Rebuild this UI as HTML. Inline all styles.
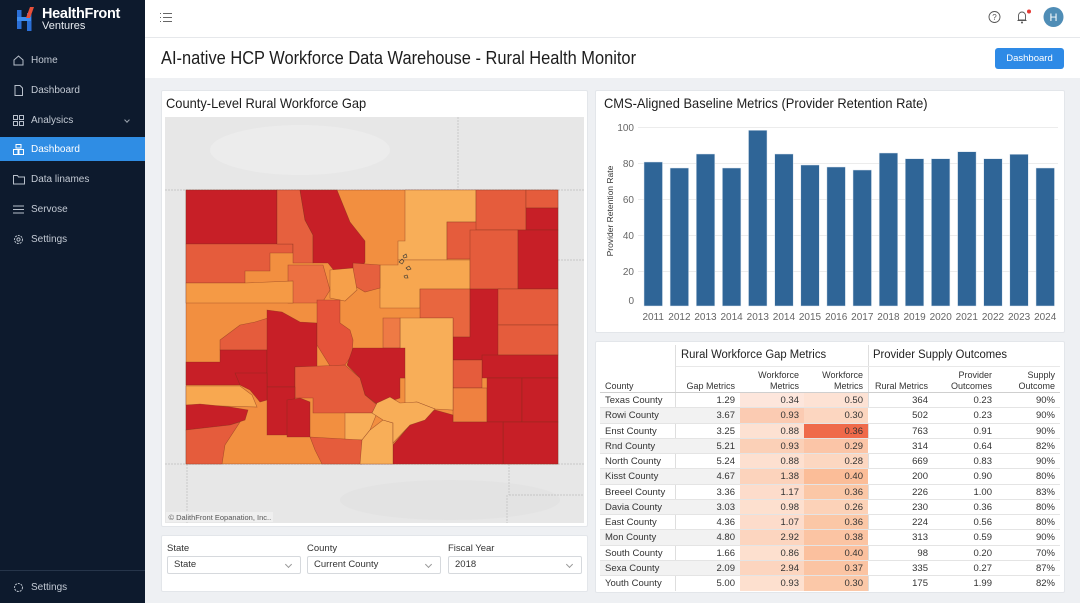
<!DOCTYPE html>
<html><head><meta charset="utf-8"><style>
*{margin:0;padding:0;box-sizing:border-box}
body{width:1080px;height:603px;overflow:hidden;background:#eef0f3;font-family:"Liberation Sans",Arial,sans-serif;position:relative;color:#222}
.abs{position:absolute}
#side{left:0;top:0;width:145px;height:603px;background:#0d1a2d}
.nav{position:absolute;left:0;width:145px;height:24px;line-height:24px;font-size:10px;color:#c3cad4;padding-left:31px}
.nav svg{position:absolute;left:13px;top:6px}
.card{position:absolute;background:#fff;border:1px solid #e3e6ea;border-radius:2px}
.t{position:absolute;white-space:nowrap}
.row{position:absolute;left:600px;width:460px;height:15.25px;display:flex;font-size:9.5px;line-height:15px;color:#333;border-bottom:1px solid #e4e4e4}
.row div{padding-right:5px;text-align:right}
.c0{width:75px;text-align:left!important;padding-left:5px}
.c1{width:65px}.c2{width:64px}.c3{width:64px}.c4{width:65px}.c5{width:64px}.c6{width:63px}
.g{background:#f2f2f2}
.sel{position:absolute;top:556px;height:18px;border:1px solid #d6d9dd;border-radius:2px;font-size:9.5px;line-height:16px;padding-left:6px;color:#333;background:#fff}
.sel:after{content:"";position:absolute;right:9px;top:5px;width:4px;height:4px;border-right:1px solid #999;border-bottom:1px solid #999;transform:rotate(45deg)}
.lbl{position:absolute;top:543px;font-size:9.5px;color:#333}
</style></head><body>

<!-- Sidebar -->
<div id="side" class="abs">
  <svg class="abs" style="left:15px;top:6px" width="22" height="26" viewBox="0 0 22 26">
    <rect x="2" y="4" width="4.5" height="19" fill="#2b6fd6"/>
    <rect x="12" y="7" width="4.5" height="18" fill="#2b6fd6"/>
    <rect x="2" y="11" width="14" height="4" fill="#3d8df0"/>
    <polygon points="11,12 15,1 19,1 15,12" fill="#e8503a"/>
  </svg>
  <div class="t" style="left:42px;top:6px;font-size:14.5px;font-weight:bold;color:#fff;letter-spacing:-0.3px">HealthFront</div>
  <div class="t" style="left:42px;top:20px;font-size:11px;color:#e8ecf1">Ventures</div>

  <div class="nav" style="top:49px"><svg width="11" height="11" viewBox="0 0 11 11"><path d="M1 5 L5.5 1 L10 5 V10 H1 Z" fill="none" stroke="#b8c0cb" stroke-width="1"/></svg>Home</div>
  <div class="nav" style="top:79px"><svg width="11" height="11" viewBox="0 0 11 11"><path d="M2 0.5 H7 L9.5 3 V10.5 H2 Z" fill="none" stroke="#b8c0cb" stroke-width="1"/></svg>Dashboard</div>
  <div class="nav" style="top:109px"><svg width="11" height="11" viewBox="0 0 11 11"><rect x="0.5" y="0.5" width="4" height="4" fill="none" stroke="#b8c0cb"/><rect x="6.5" y="0.5" width="4" height="4" fill="none" stroke="#b8c0cb"/><rect x="0.5" y="6.5" width="4" height="4" fill="none" stroke="#b8c0cb"/><rect x="6.5" y="6.5" width="4" height="4" fill="none" stroke="#b8c0cb"/></svg>Analysics
    <span style="position:absolute;left:125px;top:9px;width:4px;height:4px;border-right:1px solid #9aa3ae;border-bottom:1px solid #9aa3ae;transform:rotate(45deg)"></span></div>
  <div class="nav" style="top:137px;background:#2f8de4;color:#fff;line-height:26px"><svg width="11" height="11" viewBox="0 0 11 11" style="top:7px"><rect x="3" y="0.5" width="5" height="3.5" fill="none" stroke="#fff"/><rect x="0.5" y="5.5" width="4.5" height="5" fill="none" stroke="#fff"/><rect x="6" y="5.5" width="4.5" height="5" fill="none" stroke="#fff"/></svg>Dashboard</div>
  <div class="nav" style="top:168px"><svg width="12" height="11" viewBox="0 0 12 11"><path d="M0.5 1.5 H4.5 L5.5 3 H11.5 V10 H0.5 Z" fill="none" stroke="#b8c0cb"/></svg>Data linames</div>
  <div class="nav" style="top:198px"><svg width="11" height="11" viewBox="0 0 11 11"><path d="M0 2H11M0 5.5H11M0 9H11" stroke="#b8c0cb"/></svg>Servose</div>
  <div class="nav" style="top:228px"><svg width="11" height="11" viewBox="0 0 11 11"><circle cx="5.5" cy="5.5" r="4" fill="none" stroke="#b8c0cb" stroke-dasharray="2 1"/><circle cx="5.5" cy="5.5" r="1.6" fill="none" stroke="#b8c0cb"/></svg>Settings</div>
  <div class="abs" style="left:0;top:570px;width:145px;height:1px;background:#26354a"></div>
  <div class="nav" style="top:576px"><svg width="11" height="11" viewBox="0 0 11 11"><circle cx="5.5" cy="5.5" r="4" fill="none" stroke="#b8c0cb" stroke-dasharray="2 1"/></svg>Settings</div>
</div>

<!-- Header -->
<div class="abs" style="left:145px;top:0;width:935px;height:78px;background:#fff"></div>
<div class="abs" style="left:145px;top:37px;width:935px;height:1px;background:#e6e8eb"></div>
<svg class="abs" style="left:159px;top:12px" width="14" height="11" viewBox="0 0 14 11"><path d="M1 1.5h1M1 5.5h1M1 9.5h1M4 1.5h9M4 5.5h9M4 9.5h9" stroke="#666" stroke-width="1"/></svg>
<svg class="abs" style="left:985px;top:7px" width="80" height="22" viewBox="985 7 80 22">
  <circle cx="994.5" cy="17" r="5.5" fill="none" stroke="#555" stroke-width="0.9"/>
  <text x="994.5" y="20" font-size="8" text-anchor="middle" fill="#555" font-family="Liberation Sans">?</text>
  <path d="M1018.5 20 V15.5 a3.5 3.5 0 0 1 7 0 V20 Z M1017.5 20.5 H1026.5" fill="none" stroke="#555" stroke-width="0.9"/>
  <circle cx="1022" cy="22.5" r="1" fill="#555"/>
  <circle cx="1029" cy="11.5" r="2" fill="#e53935"/>
  <circle cx="1053.5" cy="17" r="10" fill="#4f8db6"/>
  <text x="1053.5" y="21" font-size="11" text-anchor="middle" fill="#fff" font-family="Liberation Sans">H</text>
</svg>
<div class="t" style="left:161px;top:48px;font-size:18px;color:#1d1d1d;transform:scaleX(0.912);transform-origin:left top">AI-native HCP Workforce Data Warehouse - Rural Health Monitor</div>
<div class="abs" style="left:995px;top:48px;width:69px;height:21px;background:#2e8ae6;border-radius:3px;color:#fff;font-size:9.5px;line-height:21px;text-align:center">Dashboard</div>

<!-- Map card -->
<div class="card" style="left:161px;top:90px;width:427px;height:437px"></div>
<div class="t" style="left:166px;top:95px;font-size:14px;color:#1d1d1d;transform:scaleX(0.92);transform-origin:left top">County-Level Rural Workforce Gap</div>
<svg class="abs" style="left:165px;top:117px" width="419" height="406" viewBox="165 117 419 406">
  <rect x="165" y="117" width="419" height="406" fill="#e7e7e7"/>
  <ellipse cx="300" cy="150" rx="90" ry="25" fill="#ececec"/>
  <ellipse cx="450" cy="500" rx="110" ry="20" fill="#e3e3e3"/>
  <g stroke="#bdbdbd" stroke-width="0.7" fill="none" stroke-dasharray="2 1">
    <path d="M458 117V190M165 190H584M558 260H584M165 464H584M187 464V523M509 464V495M509 495H584M507 495V523"/>
  </g>
  <g stroke="#7a2e1a" stroke-width="0.6" stroke-opacity="0.55">
    <rect x="186" y="190" width="372" height="274" fill="#f28f40"/>
    <polygon points="186,190 277,190 277,244 186,244" fill="#c71f27"/>
    <polygon points="186,244 293,244 293,253 270,253 270,271 245,271 245,283 186,283" fill="#e55c3c"/>
    <polygon points="277,190 300,190 305,220 313,235 313,263 293,263 293,244 277,244" fill="#e6603e"/>
    <polygon points="300,190 337,190 350,222 365,241 365,262 358,275 350,280 340,278 328,263 313,263 313,235 305,220" fill="#c71f27"/>
    <polygon points="405,190 476,190 476,222 447,222 447,260 398,260 398,241 405,241" fill="#f8ae58"/>
    <polygon points="398,260 470,260 470,289 420,289 420,308 398,308 398,308 380,308 380,265 398,265" fill="#f7a750"/>
    <rect x="447" y="222" width="36" height="37" fill="#e55c3c"/>
    <rect x="476" y="190" width="50" height="40" fill="#e55c3c"/>
    <rect x="470" y="230" width="48" height="59" fill="#e55c3c"/>
    <rect x="526" y="190" width="32" height="18" fill="#e55c3c"/>
    <rect x="526" y="208" width="32" height="22" fill="#c71f27"/>
    <rect x="518" y="230" width="40" height="59" fill="#c71f27"/>
    <polygon points="353,263 380,265 380,288 365,292 353,285" fill="#e6603e"/>
    <polygon points="330,270 353,268 357,290 345,301 330,298" fill="#f6a04a"/>
    <polygon points="288,265 323,265 330,290 322,303 288,303" fill="#ec7042"/>
    <polygon points="186,283 245,283 293,281 293,303 186,303" fill="#f59a45"/>
    <polygon points="420,289 470,289 470,337 453,337 453,318 420,318" fill="#e8663f"/>
    <polygon points="470,289 500,289 500,360 453,360 453,337 470,337" fill="#c71f27"/>
    <rect x="498" y="289" width="60" height="36" fill="#e55c3c"/>
    <rect x="498" y="325" width="60" height="30" fill="#e55c3c"/>
    <rect x="482" y="355" width="76" height="23" fill="#c71f27"/>
    <rect x="453" y="360" width="29" height="28" fill="#e55c3c"/>
    <rect x="453" y="388" width="34" height="34" fill="#ef8140"/>
    <rect x="487" y="378" width="35" height="44" fill="#c71f27"/>
    <rect x="522" y="378" width="36" height="44" fill="#c71f27"/>
    <rect x="503" y="422" width="55" height="42" fill="#c71f27"/>
    <polygon points="393,445 410,425 435,410 453,415 453,422 503,422 503,464 393,464" fill="#c71f27"/>
    <polygon points="400,318 453,318 453,410 435,409 417,402 405,403 405,378 400,378" fill="#f8ae58"/>
    <polygon points="383,318 400,318 400,348 383,348" fill="#ee7a45"/>
    <polygon points="220,340 240,325 255,322 268,318 268,350 220,350" fill="#e55c3c"/>
    <polygon points="186,362 220,362 220,350 267,350 267,385 186,385" fill="#c71f27"/>
    <polygon points="267,310 282,312 300,322 317,323 317,367 295,367 295,387 267,387" fill="#c71f27"/>
    <polygon points="317,300 340,300 340,323 350,330 353,340 352,355 345,365 330,366 317,345" fill="#e5533a"/>
    <polygon points="353,348 405,348 405,378 400,378 400,398 378,405 365,395 360,378 347,365" fill="#c71f27"/>
    <polygon points="295,367 345,365 360,378 365,395 377,405 372,413 313,413 313,398 295,398" fill="#e55c3c"/>
    <polygon points="267,387 295,387 295,435 267,435" fill="#c71f27"/>
    <polygon points="287,400 300,398 310,402 310,437 287,437" fill="#c71f27"/>
    <polygon points="235,373 267,373 267,400 260,402 250,390 240,385" fill="#c71f27"/>
    <polygon points="186,386 240,386 252,395 257,407 186,405" fill="#f8a850"/>
    <polygon points="186,405 200,404 230,407 248,410 245,420 230,425 186,430" fill="#c71f27"/>
    <polygon points="186,430 230,425 240,422 225,445 222,464 186,464" fill="#e55c3c"/>
    <polygon points="345,413 377,413 370,430 362,440 345,440" fill="#f8ae58"/>
    <polygon points="310,437 362,440 362,464 322,464 315,450" fill="#e55c3c"/>
    <polygon points="370,430 383,420 393,423 393,464 360,464 362,440" fill="#f8ae58"/>
    <polygon points="377,403 390,397 400,403 417,402 435,409 425,420 410,425 393,443 393,423 383,420 372,413" fill="#f8ae58"/>
  </g>
  <g fill="none" stroke="#333" stroke-width="0.6">
    <path d="M399 262 l3 -3 l2 2 l-2 3 z M403 256 l3 -2 l1 3 l-3 1 z M406 268 l3 -2 l2 3 l-3 1z M404 276 l3 -1 l1 3 l-3 0z"/>
  </g>
  <rect x="166" y="512" width="107" height="10" fill="#f0f0f0" opacity="0.9"/>
  <text x="168.5" y="520" font-size="7.5" fill="#555" font-family="Liberation Sans">© DalithFront Eopanation, Inc..</text>
</svg>

<!-- Filters card -->
<div class="card" style="left:161px;top:535px;width:427px;height:57px"></div>
<div class="lbl" style="left:167px">State</div>
<div class="lbl" style="left:307px">County</div>
<div class="lbl" style="left:448px">Fiscal Year</div>
<div class="sel" style="left:167px;width:134px">State</div>
<div class="sel" style="left:307px;width:134px">Current County</div>
<div class="sel" style="left:448px;width:134px">2018</div>

<!-- Bar chart card -->
<div class="card" style="left:595px;top:90px;width:470px;height:243px"></div>
<div class="t" style="left:604px;top:95px;font-size:14px;color:#1d1d1d;transform:scaleX(0.92);transform-origin:left top">CMS-Aligned Baseline Metrics (Provider Retention Rate)</div>
<svg class="abs" style="left:595px;top:110px" width="470" height="222" viewBox="595 110 470 222" font-family="Liberation Sans">
  <g stroke="#ececec" stroke-width="1">
    <path d="M638 127.5H1058M638 163.5H1058M638 199.5H1058M638 235.5H1058M638 271.5H1058"/>
  </g>
  <g font-size="10" fill="#666" text-anchor="end">
    <text x="634" y="131">100</text><text x="634" y="167">80</text><text x="634" y="203">60</text>
    <text x="634" y="239">40</text><text x="634" y="275">20</text><text x="634" y="304">0</text>
  </g>
  <text transform="translate(613,211) rotate(-90)" font-size="8.5" fill="#333" text-anchor="middle">Provider Retention Rate</text>
  <g fill="#2f6597" stroke="#dce6ef" stroke-width="0.5">
    <rect x="644" y="162" width="18.5" height="144"/>
    <rect x="670.1" y="168" width="18.5" height="138"/>
    <rect x="696.3" y="154" width="18.5" height="152"/>
    <rect x="722.4" y="168" width="18.5" height="138"/>
    <rect x="748.5" y="130.3" width="18.5" height="175.7"/>
    <rect x="774.7" y="154" width="18.5" height="152"/>
    <rect x="800.8" y="165" width="18.5" height="141"/>
    <rect x="826.9" y="167" width="18.5" height="139"/>
    <rect x="853" y="170" width="18.5" height="136"/>
    <rect x="879.2" y="153" width="18.5" height="153"/>
    <rect x="905.3" y="158.7" width="18.5" height="147.3"/>
    <rect x="931.4" y="158.7" width="18.5" height="147.3"/>
    <rect x="957.6" y="151.7" width="18.5" height="154.3"/>
    <rect x="983.7" y="158.7" width="18.5" height="147.3"/>
    <rect x="1009.8" y="154.3" width="18.5" height="151.7"/>
    <rect x="1036" y="168" width="18.5" height="138"/>
  </g>
  <g font-size="10" fill="#666" text-anchor="middle">
    <text x="653.2" y="320">2011</text><text x="679.4" y="320">2012</text><text x="705.5" y="320">2013</text><text x="731.6" y="320">2014</text>
    <text x="757.8" y="320">2013</text><text x="783.9" y="320">2014</text><text x="810" y="320">2015</text><text x="836.2" y="320">2016</text>
    <text x="862.3" y="320">2017</text><text x="888.4" y="320">2018</text><text x="914.6" y="320">2019</text><text x="940.7" y="320">2020</text>
    <text x="966.8" y="320">2021</text><text x="993" y="320">2022</text><text x="1019.1" y="320">2023</text><text x="1045.2" y="320">2024</text>
  </g>
</svg>

<!-- Table card -->
<div class="card" style="left:595px;top:341px;width:470px;height:252px"></div>
<div class="abs" style="left:675px;top:345px;width:1px;height:246px;background:#dedede"></div>
<div class="abs" style="left:868px;top:345px;width:1px;height:246px;background:#dedede"></div>
<div class="t" style="left:681px;top:349px;font-size:11.5px;color:#222;transform:scaleX(0.98);transform-origin:left top">Rural Workforce Gap Metrics</div>
<div class="t" style="left:873px;top:349px;font-size:11.5px;color:#222;transform:scaleX(0.98);transform-origin:left top">Provider Supply Outcomes</div>
<div class="abs" style="left:676px;top:366px;width:384px;height:1px;background:#e8e8e8"></div>
<div style="position:absolute;left:600px;top:368px;width:460px;height:25px;font-size:9px;color:#333;line-height:11px;border-bottom:1px solid #cfcfcf">
  <div class="t" style="left:5px;top:13px">County</div>
  <div class="t" style="right:325px;top:13px">Gap Metrics</div>
  <div class="t" style="right:261px;top:2px;text-align:right">Workforce<br>Metrics</div>
  <div class="t" style="right:197px;top:2px;text-align:right">Workforce<br>Metrics</div>
  <div class="t" style="right:132px;top:13px">Rural Metrics</div>
  <div class="t" style="right:68px;top:2px;text-align:right">Provider<br>Outcomes</div>
  <div class="t" style="right:5px;top:2px;text-align:right">Supply<br>Outcome</div>
</div>

<div class="row" style="top:393px"><div class="c0">Texas County</div><div class="c1">1.29</div><div class="c2" style="background:#fde6dc">0.34</div><div class="c3" style="background:#fde2d4">0.50</div><div class="c4">364</div><div class="c5">0.23</div><div class="c6">90%</div></div>
<div class="row g" style="top:408.25px"><div class="c0">Rowi County</div><div class="c1">3.67</div><div class="c2" style="background:#fbcbb2">0.93</div><div class="c3" style="background:#fcd6c0">0.30</div><div class="c4" style="background:#fff">502</div><div class="c5" style="background:#fff">0.23</div><div class="c6" style="background:#fff">90%</div></div>
<div class="row" style="top:423.5px"><div class="c0">Enst County</div><div class="c1">3.25</div><div class="c2" style="background:#fde1d2">0.88</div><div class="c3" style="background:#ef6a4a">0.36</div><div class="c4">763</div><div class="c5">0.91</div><div class="c6">90%</div></div>
<div class="row g" style="top:438.75px"><div class="c0">Rnd County</div><div class="c1">5.21</div><div class="c2" style="background:#fbd0b7">0.93</div><div class="c3" style="background:#fbc5a7">0.29</div><div class="c4" style="background:#fff">314</div><div class="c5" style="background:#fff">0.64</div><div class="c6" style="background:#fff">82%</div></div>
<div class="row" style="top:454px"><div class="c0">North County</div><div class="c1">5.24</div><div class="c2" style="background:#fde0d0">0.88</div><div class="c3" style="background:#fcd7c1">0.28</div><div class="c4">669</div><div class="c5">0.83</div><div class="c6">90%</div></div>
<div class="row g" style="top:469.25px"><div class="c0">Kisst County</div><div class="c1">4.67</div><div class="c2" style="background:#fcd3bc">1.38</div><div class="c3" style="background:#fbbd98">0.40</div><div class="c4" style="background:#fff">200</div><div class="c5" style="background:#fff">0.90</div><div class="c6" style="background:#fff">80%</div></div>
<div class="row" style="top:484.5px"><div class="c0">Breeel County</div><div class="c1">3.36</div><div class="c2" style="background:#fddccb">1.17</div><div class="c3" style="background:#fbc7a6">0.36</div><div class="c4">226</div><div class="c5">1.00</div><div class="c6">83%</div></div>
<div class="row g" style="top:499.75px"><div class="c0">Davia County</div><div class="c1">3.03</div><div class="c2" style="background:#fde0cf">0.98</div><div class="c3" style="background:#fcd2b8">0.26</div><div class="c4" style="background:#fff">230</div><div class="c5" style="background:#fff">0.36</div><div class="c6" style="background:#fff">80%</div></div>
<div class="row" style="top:515px"><div class="c0">East County</div><div class="c1">4.36</div><div class="c2" style="background:#fddccb">1.07</div><div class="c3" style="background:#fbc7a6">0.36</div><div class="c4">224</div><div class="c5">0.56</div><div class="c6">80%</div></div>
<div class="row g" style="top:530.25px"><div class="c0">Mon County</div><div class="c1">4.80</div><div class="c2" style="background:#fcd5bf">2.92</div><div class="c3" style="background:#fbc4a3">0.38</div><div class="c4" style="background:#fff">313</div><div class="c5" style="background:#fff">0.59</div><div class="c6" style="background:#fff">90%</div></div>
<div class="row" style="top:545.5px"><div class="c0">South County</div><div class="c1">1.66</div><div class="c2" style="background:#fde0cf">0.86</div><div class="c3" style="background:#fbc09e">0.40</div><div class="c4">98</div><div class="c5">0.20</div><div class="c6">70%</div></div>
<div class="row g" style="top:560.75px"><div class="c0">Sexa County</div><div class="c1">2.09</div><div class="c2" style="background:#fcd5bf">2.94</div><div class="c3" style="background:#fbc4a3">0.37</div><div class="c4" style="background:#fff">335</div><div class="c5" style="background:#fff">0.27</div><div class="c6" style="background:#fff">87%</div></div>
<div class="row" style="top:576px;border-bottom:none"><div class="c0">Youth County</div><div class="c1">5.00</div><div class="c2" style="background:#fde0cf">0.93</div><div class="c3" style="background:#fbc8a8">0.30</div><div class="c4">175</div><div class="c5">1.99</div><div class="c6">82%</div></div>

</body></html>
